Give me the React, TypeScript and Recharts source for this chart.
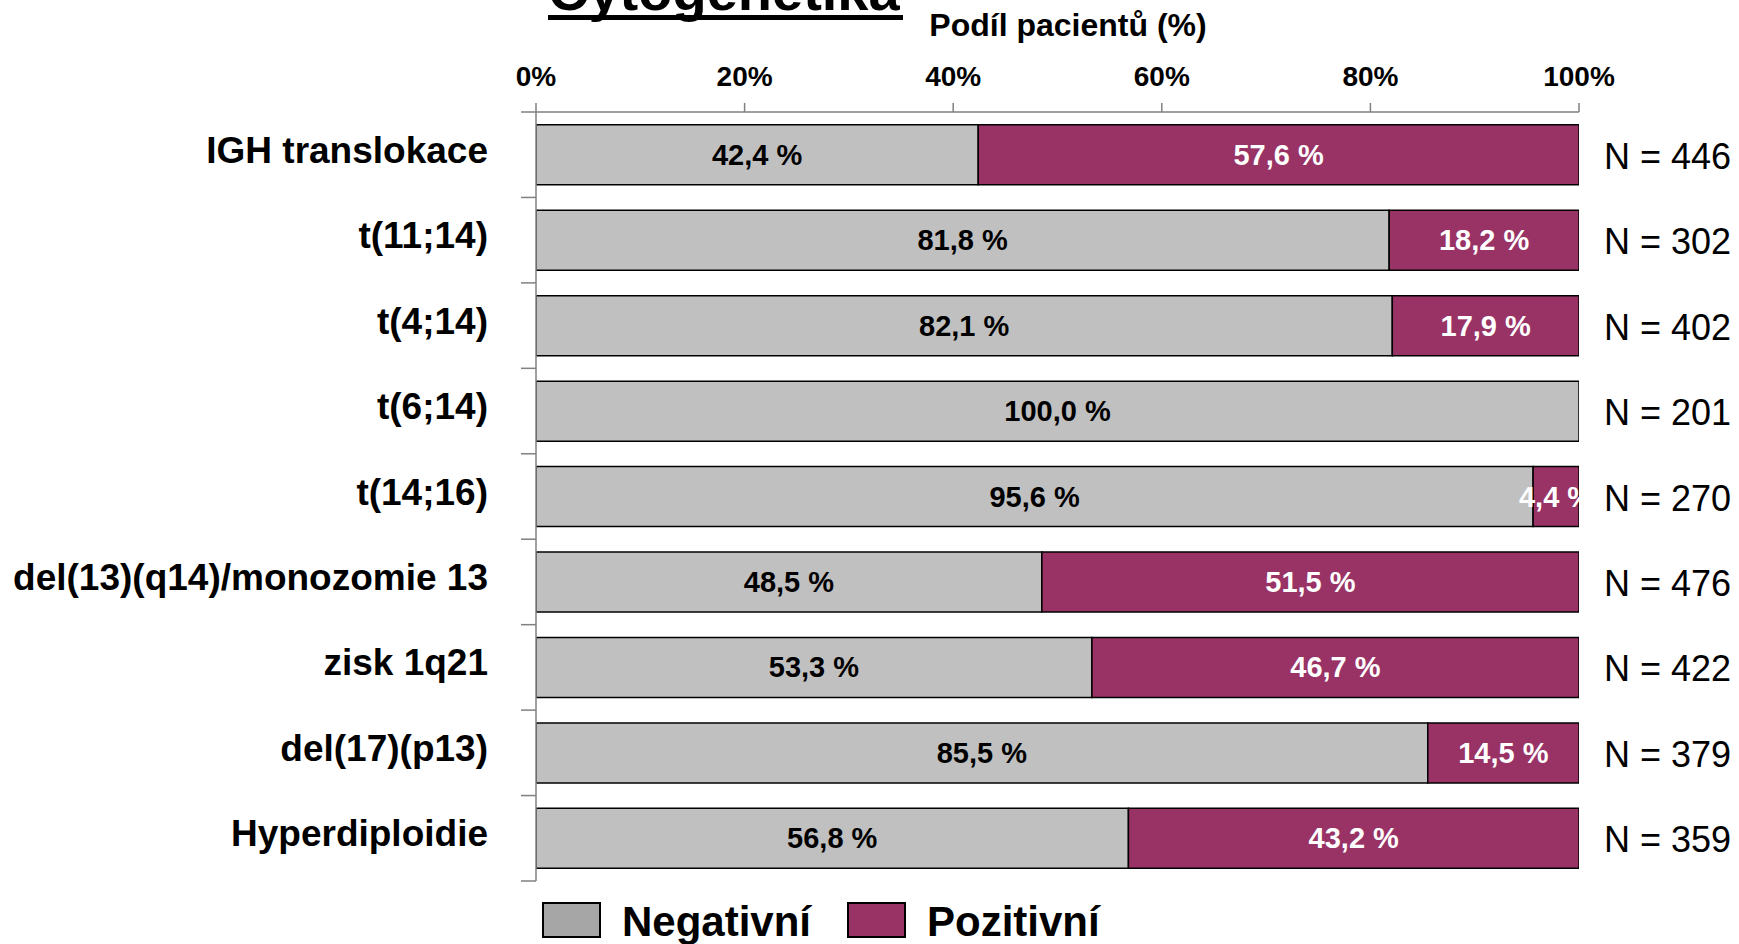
import { BarChart, Bar, XAxis, YAxis, LabelList } from 'recharts'

const categories = [
  'IGH translokace',
  't(11;14)',
  't(4;14)',
  't(6;14)',
  't(14;16)',
  'del(13)(q14)/monozomie 13',
  'zisk 1q21',
  'del(17)(p13)',
  'Hyperdiploidie',
]
const negativni = [42.4, 81.8, 82.1, 100.0, 95.6, 48.5, 53.3, 85.5, 56.8]
const pozitivni = [57.6, 18.2, 17.9, 0, 4.4, 51.5, 46.7, 14.5, 43.2]
const counts = [446, 302, 402, 201, 270, 476, 422, 379, 359]
const xTicks = [0, 20, 40, 60, 80, 100]

const data = categories.map((name, i) => ({
  name,
  neg: negativni[i],
  pos: pozitivni[i],
  n: counts[i],
}))

const W = 1739
const H = 944
const TOP = 112
const XAXIS_H = 40
const BOTTOM = 63
const LEFT = 536
const RIGHT = 160
const BAND = (H - TOP - BOTTOM) / categories.length
const FONT = 'Arial, "Liberation Sans", Helvetica, sans-serif'
const GRAY = '#C0C0C0'
const MAGENTA = '#993366'
const AXIS = '#808080'

const fmt = (v: number) => `${v.toFixed(1).replace('.', ',')} %`

function CategoryTick(props: any) {
  const { x, y, payload, index } = props
  const last = index === categories.length - 1
  return (
    <g>
      <line x1={LEFT - 15} x2={LEFT} y1={y - BAND / 2} y2={y - BAND / 2} stroke={AXIS} strokeWidth={1.5} />
      {last && (
        <line x1={LEFT - 15} x2={LEFT} y1={y + BAND / 2} y2={y + BAND / 2} stroke={AXIS} strokeWidth={1.5} />
      )}
      <text
        x={x - 40}
        y={y}
        dy={8}
        textAnchor="end"
        fontFamily={FONT}
        fontWeight="bold"
        fontSize={37}
        fill="#000"
      >
        {payload.value}
      </text>
      <text x={W - RIGHT + 25} y={y} dy={14} fontFamily={FONT} fontSize={36} fill="#000">
        N = {counts[index]}
      </text>
    </g>
  )
}

function SegmentLabel(props: any, color: string) {
  const { x, y, width, height, value, index } = props
  if (!value) return null
  const id = `clip-${color.replace('#', '')}-${index}`
  return (
    <g>
      <clipPath id={id}>
        <rect x={x - 300} y={y} width={width + 300} height={height} />
      </clipPath>
      <text
        x={x + width / 2}
        y={y + height / 2}
        dy={10}
        textAnchor="middle"
        fontFamily={FONT}
        fontWeight="bold"
        fontSize={29}
        fill={color}
        clipPath={`url(#${id})`}
      >
        {fmt(value)}
      </text>
    </g>
  )
}

function Overlay() {
  const items = [
    { label: 'Negativní', color: '#A6A6A6', x: 543 },
    { label: 'Pozitivní', color: MAGENTA, x: 848 },
  ]
  return (
    <svg width={W} height={H} style={{ position: 'absolute', left: 0, top: 0, pointerEvents: 'none' }}>
      <text x={548} y={10} fontFamily={FONT} fontWeight="bold" fontSize={56} fill="#000">
        Cytogenetika
      </text>
      <rect x={548} y={15} width={355} height={5} fill="#000" />
      <text x={1068} y={36} textAnchor="middle" fontFamily={FONT} fontWeight="bold" fontSize={32} fill="#000">
        Podíl pacientů (%)
      </text>
      {items.map((it) => (
        <g key={it.label}>
          <rect x={it.x} y={903} width={57} height={34} fill={it.color} stroke="#000" strokeWidth={2} />
          <text x={it.x + 79} y={936} fontFamily={FONT} fontWeight="bold" fontSize={42} fill="#000">
            {it.label}
          </text>
        </g>
      ))}
    </svg>
  )
}

export default function App() {
  return (
    <div style={{ position: 'absolute', left: 0, top: 0, width: W, height: H, background: '#fff', overflow: 'hidden' }}>
      <BarChart
        width={W}
        height={H}
        data={data}
        layout="vertical"
        margin={{ top: TOP - XAXIS_H, right: RIGHT, bottom: BOTTOM, left: 0 }}
        barCategoryGap="15%"
      >
        <XAxis
          type="number"
          orientation="top"
          height={XAXIS_H}
          domain={[0, 100]}
          ticks={xTicks}
          tickFormatter={(v: number) => `${v}%`}
          axisLine={{ stroke: AXIS, strokeWidth: 1.5 }}
          tickLine={{ stroke: AXIS, strokeWidth: 1.5 }}
          tickSize={9}
          tick={{ fill: '#000', fontFamily: FONT, fontWeight: 'bold', fontSize: 28 }}
          tickMargin={17}
          allowDataOverflow
        />
        <YAxis
          type="category"
          dataKey="name"
          width={LEFT}
          axisLine={{ stroke: AXIS, strokeWidth: 1.5 }}
          tickLine={false}
          tick={<CategoryTick />}
          interval={0}
        />
        <Bar dataKey="neg" stackId="a" fill={GRAY} stroke="#000" strokeWidth={1.5} isAnimationActive={false}>
          <LabelList dataKey="neg" content={(p: any) => SegmentLabel(p, '#000')} />
        </Bar>
        <Bar dataKey="pos" stackId="a" fill={MAGENTA} stroke="#000" strokeWidth={1.5} isAnimationActive={false}>
          <LabelList dataKey="pos" content={(p: any) => SegmentLabel(p, '#fff')} />
        </Bar>
      </BarChart>
      <Overlay />
    </div>
  )
}
